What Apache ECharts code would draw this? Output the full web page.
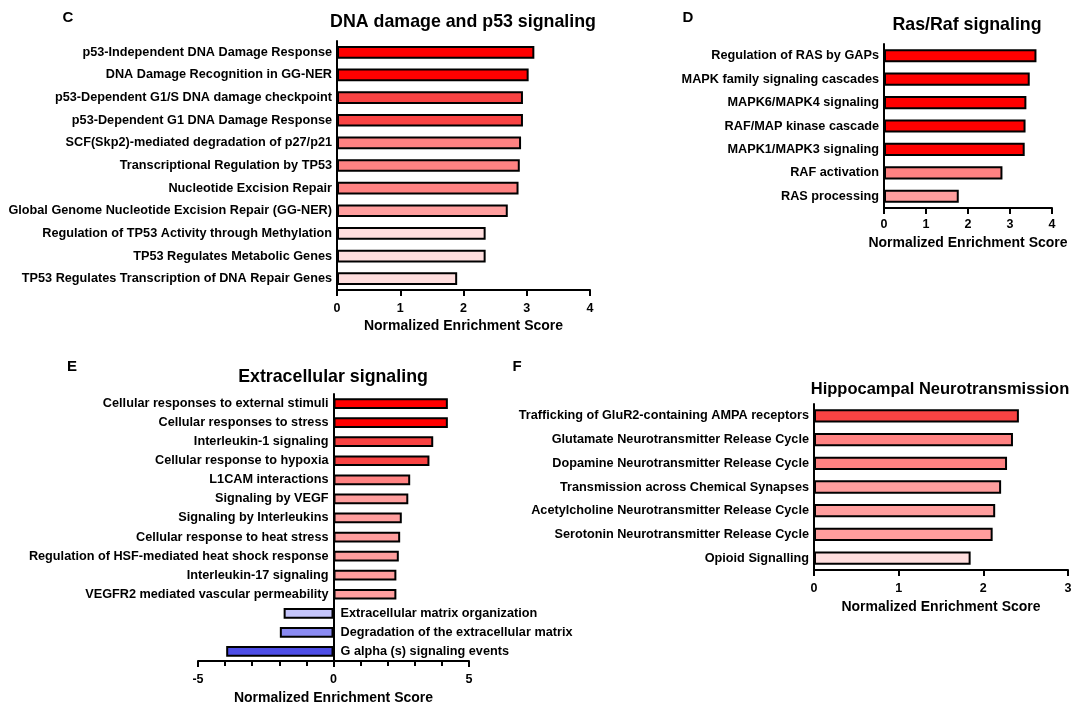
<!DOCTYPE html>
<html><head><meta charset="utf-8">
<script src="https://cdn.jsdelivr.net/npm/echarts@6/dist/echarts.min.js"></script>
<style>html,body{margin:0;padding:0;background:#fff}#chart{width:1072px;height:707px}</style>
</head><body><div id="chart"></div>
<script>
// ---------- DATA ----------
const cCategories = [
  'p53-Independent DNA Damage Response',
  'DNA Damage Recognition in GG-NER',
  'p53-Dependent G1/S DNA damage checkpoint',
  'p53-Dependent G1 DNA Damage Response',
  'SCF(Skp2)-mediated degradation of p27/p21',
  'Transcriptional Regulation by TP53',
  'Nucleotide Excision Repair',
  'Global Genome Nucleotide Excision Repair (GG-NER)',
  'Regulation of TP53 Activity through Methylation',
  'TP53 Regulates Metabolic Genes',
  'TP53 Regulates Transcription of DNA Repair Genes'
];
const cValues = [3.12, 3.03, 2.94, 2.94, 2.91, 2.89, 2.87, 2.70, 2.35, 2.35, 1.90];

const dCategories = [
  'Regulation of RAS by GAPs',
  'MAPK family signaling cascades',
  'MAPK6/MAPK4 signaling',
  'RAF/MAP kinase cascade',
  'MAPK1/MAPK3 signaling',
  'RAF activation',
  'RAS processing'
];
const dValues = [3.63, 3.47, 3.39, 3.37, 3.35, 2.82, 1.78];

const eCategories = [
  'Cellular responses to external stimuli',
  'Cellular responses to stress',
  'Interleukin-1 signaling',
  'Cellular response to hypoxia',
  'L1CAM interactions',
  'Signaling by VEGF',
  'Signaling by Interleukins',
  'Cellular response to heat stress',
  'Regulation of HSF-mediated heat shock response',
  'Interleukin-17 signaling',
  'VEGFR2 mediated vascular permeability',
  'Extracellular matrix organization',
  'Degradation of the extracellular matrix',
  'G alpha (s) signaling events'
];
const eValues = [4.22, 4.22, 3.68, 3.54, 2.83, 2.76, 2.52, 2.46, 2.41, 2.32, 2.32, -1.84, -1.98, -3.96];

const fCategories = [
  'Trafficking of GluR2-containing AMPA receptors',
  'Glutamate Neurotransmitter Release Cycle',
  'Dopamine Neurotransmitter Release Cycle',
  'Transmission across Chemical Synapses',
  'Acetylcholine Neurotransmitter Release Cycle',
  'Serotonin Neurotransmitter Release Cycle',
  'Opioid Signalling'
];
const fValues = [2.42, 2.35, 2.28, 2.21, 2.14, 2.11, 1.85];

const axisName = 'Normalized Enrichment Score';

// ---------- STYLE ----------
const FONT = '"Liberation Sans", Arial, sans-serif';
const R1 = '#ff0000', R2 = '#f94343', R3 = '#ff8282', R4 = '#ff9e9e', R5 = '#ffdede';
const B1 = '#c4c4fa', B2 = '#8a8af2', B3 = '#4d4de6';
const cColors = [R1, R1, R2, R2, R3, R3, R3, R4, R5, R5, R5];
const dColors = [R1, R1, R1, R1, R1, R3, R4];
const eColors = [R1, R1, R2, R2, R3, R4, R4, R4, R4, R4, R4, B1, B2, B3];
const fColors = [R2, R3, R3, R4, R4, R4, R5];

const panels = [
  {cats: cCategories, vals: cValues, colors: cColors, grid: {left: 337, top: 41, width: 253, height: 249}, min: 0, max: 4, interval: 1, margin: 12, nameGap: 29},
  {cats: dCategories, vals: dValues, colors: dColors, grid: {left: 884, top: 44, width: 168, height: 164}, min: 0, max: 4, interval: 1, margin: 10, nameGap: 28},
  {cats: eCategories, vals: eValues, colors: eColors, grid: {left: 198, top: 394, width: 271, height: 267}, min: -5, max: 5, interval: 5, margin: 12, nameGap: 30, minor: true, barLabels: true},
  {cats: fCategories, vals: fValues, colors: fColors, grid: {left: 814, top: 404, width: 254, height: 166}, min: 0, max: 3, interval: 1, margin: 12, nameGap: 30}
];

const labelFont = {color: '#000', fontWeight: 'bold', fontSize: 12.7, fontFamily: FONT};

const grids = [], xAxes = [], yAxes = [], series = [];
panels.forEach((p, i) => {
  grids.push(Object.assign({containLabel: false, outerBoundsMode: 'none'}, p.grid));
  xAxes.push({
    gridIndex: i, type: 'value', min: p.min, max: p.max, interval: p.interval,
    axisLine: {show: true, onZero: false, lineStyle: {color: '#000', width: 2}},
    axisTick: {show: true, length: 6, lineStyle: {color: '#000', width: 2}},
    minorTick: {show: !!p.minor, splitNumber: 5, length: 5, lineStyle: {color: '#000', width: 2}},
    splitLine: {show: false},
    axisLabel: {color: '#000', fontWeight: 'bold', fontSize: 12.5, margin: p.margin, fontFamily: FONT},
    name: axisName, nameLocation: 'middle', nameGap: p.nameGap,
    nameTextStyle: {color: '#000', fontWeight: 'bold', fontSize: 14, fontFamily: FONT}
  });
  yAxes.push({
    gridIndex: i, type: 'category', data: p.cats, inverse: true,
    axisLine: {show: true, onZero: true, lineStyle: {color: '#000', width: 2}},
    axisTick: {show: false},
    axisLabel: Object.assign({show: !p.barLabels, margin: 5}, labelFont)
  });
  series.push({
    type: 'bar', xAxisIndex: i, yAxisIndex: i, barWidth: '56%',
    itemStyle: {borderColor: '#000', borderWidth: 2},
    data: p.vals.map((v, k) => {
      const d = {value: v, itemStyle: {color: p.colors[k]}};
      if (p.barLabels) {
        d.label = Object.assign({show: true, position: v < 0 ? 'right' : 'left',
          distance: v < 0 ? 7 : 5, formatter: '{b}'}, labelFont);
      }
      return d;
    })
  });
});

function txt(t, x, y, size) {
  return {type: 'text', x: x, y: y, style: {text: t, fill: '#000', fontSize: size, fontWeight: 'bold',
    fontFamily: FONT, align: 'center', verticalAlign: 'middle'}};
}

const chart = echarts.init(document.getElementById('chart'), null, {renderer: 'canvas'});
chart.setOption({
  animation: false,
  backgroundColor: '#fff',
  grid: grids, xAxis: xAxes, yAxis: yAxes, series: series,
  graphic: [
    txt('C', 68, 18, 15), txt('D', 688, 18, 15), txt('E', 72, 367, 15), txt('F', 517, 367, 15),
    txt('DNA damage and p53 signaling', 463, 22, 17.8),
    txt('Ras/Raf signaling', 967, 25, 17.8),
    txt('Extracellular signaling', 333, 377, 17.8),
    txt('Hippocampal Neurotransmission', 940, 389, 16.5)
  ]
});
</script></body></html>
